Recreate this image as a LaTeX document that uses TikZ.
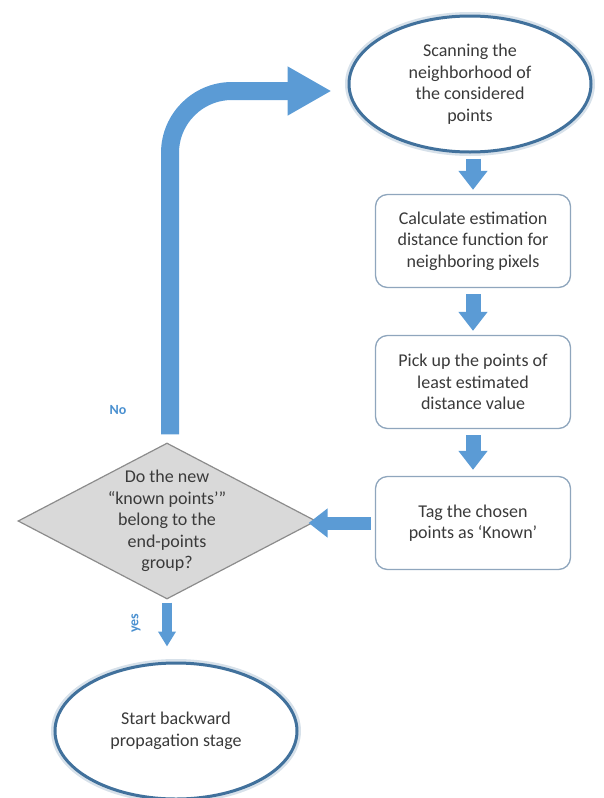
\documentclass[tikz,border=0pt]{standalone}
\usepackage{fontspec}
\setmainfont{Carlito}
\usetikzlibrary{shapes.geometric,arrows.meta,calc}
\definecolor{arrblue}{HTML}{5B9BD5}
\definecolor{ellborder}{HTML}{41719C}
\definecolor{boxborder}{HTML}{8FA6BD}
\definecolor{txt}{HTML}{3A3A3A}
\definecolor{labblue}{HTML}{4A90D0}
\definecolor{diafill}{HTML}{D9D9D9}
\definecolor{diaborder}{HTML}{8C8C8C}
\begin{document}
\begin{tikzpicture}[x=1pt,y=-1pt,
  every node/.style={font=\fontsize{18}{21.5}\selectfont, text=txt, align=center},
  ellbox/.style={ellipse, draw=ellborder, line width=3pt, fill=white, inner sep=0pt,
     minimum width=242pt, minimum height=136pt,
     preaction={draw=ellborder!60, line width=8pt, opacity=0.35}},
  stepbox/.style={rectangle, rounded corners=12pt, draw=boxborder, line width=1.3pt, fill=white,
     minimum width=195pt, minimum height=93pt, inner sep=2pt},
  decbox/.style={diamond, draw=diaborder, line width=1.2pt, fill=diafill, aspect=1.91,
     minimum width=298pt, minimum height=156pt, inner sep=-8pt},
  blockarr/.style={draw=arrblue, line width=15pt, -{Triangle[length=19pt,width=28pt]}},
  bigarr/.style={draw=arrblue, line width=18pt, rounded corners=62pt, -{Triangle[length=44pt,width=46pt]}},
  lab/.style={font=\fontsize{14}{16}\selectfont\bfseries, text=labblue}
]
\useasboundingbox (0,0) rectangle (603,798);

\node[ellbox] (scan) at (470,84) {Scanning the\\neighborhood of\\the considered\\points};
\node[stepbox] (calc) at (473,241) {Calculate estimation\\distance function for\\neighboring pixels};
\node[stepbox] (pick) at (473,382) {Pick up the points of\\least estimated\\distance value};
\node[stepbox] (tag) at (473,523) {Tag the chosen\\points as ‘Known’};
\node[decbox] (dec) at (167,521) {Do the new\\“known points’”\\belong to the\\end-points\\group?};
\node[ellbox] (start) at (176,731) {Start backward\\propagation stage};

\draw[blockarr] ([yshift=-5pt]scan.south -| calc.north) -- ([yshift=4pt]calc.north);
\draw[blockarr] ([yshift=-6pt]calc.south) -- ([yshift=4pt]pick.north);
\draw[blockarr] ([yshift=-6pt]pick.south) -- ([yshift=6pt]tag.north);
\draw[blockarr, line width=13pt] ([xshift=-4pt]tag.west) -- ([xshift=-8pt]dec.east |- tag.west);
\draw[draw=arrblue, line width=10pt, -{Triangle[length=15pt,width=17pt]}] ([yshift=-3pt]dec.south) -- ([yshift=15pt]dec.south |- start.north);

\coordinate (turn) at (170,91);
\draw[bigarr] ([yshift=8pt]dec.north -| turn) -- (turn) -- ([xshift=-16pt]scan.west |- turn);

\node[lab] (no) at (118,410) {No};
\node[lab, rotate=90] (yes) at (136,623) {yes};
\end{tikzpicture}
\end{document}
